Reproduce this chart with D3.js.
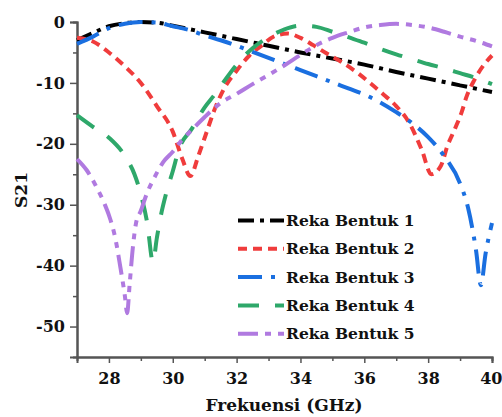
<!DOCTYPE html>
<html>
<head>
<meta charset="utf-8">
<script src="https://cdn.jsdelivr.net/npm/d3@7"></script>
<style>
  body { margin: 0; background: #fff; }
  text { font-family: "DejaVu Serif", serif; font-weight: bold; fill: #111; }
</style>
</head>
<body>
<div class="graph"></div>
<script>
// values: [frequency GHz, S21 dB]
var reka1 = [[27,-3],[27.5,-1.8],[28,-0.7],[28.5,-0.2],[29,0],[29.5,-0.1],[30,-0.6],[31,-1.7],
  [32,-2.8],[33,-3.9],[34,-5],[35,-6],[36,-7],[37,-8.2],[38,-9.3],[39,-10.4],[40,-11.5]];
var reka2 = [[27,-2.6],[27.5,-3.2],[28,-5],[28.5,-7.3],[29,-10],[29.5,-13.8],[30,-18],[30.3,-22.5],
  [30.55,-25.3],[30.8,-22],[31,-19],[31.3,-14.5],[31.6,-11],[32,-8],[32.4,-5.5],[32.8,-3.8],
  [33.2,-2.3],[33.6,-1.9],[34,-2.6],[34.4,-3.8],[34.8,-5.1],[35.3,-6.6],[35.8,-8.4],[36.2,-10.1],
  [36.6,-11.9],[37,-13.8],[37.4,-16.5],[37.8,-21],[38.1,-25],[38.4,-23.6],[38.6,-20.4],
  [38.85,-17.4],[39.05,-14.8],[39.2,-12.3],[39.45,-9.5],[39.75,-7],[40,-5.5]];
var reka3 = [[27,-3.6],[27.5,-2.4],[28,-1],[28.5,-0.3],[29,0],[29.5,-0.1],[30,-0.7],[30.5,-1.3],
  [31,-2.2],[31.5,-3],[32,-3.9],[32.5,-4.9],[33,-5.9],[33.5,-6.9],[34,-7.9],[34.5,-8.9],[35,-9.9],
  [35.5,-10.9],[36,-11.9],[36.5,-13.2],[37,-14.8],[37.5,-16.6],[38,-18.9],[38.5,-22],[39,-26.5],
  [39.25,-30.5],[39.5,-37.5],[39.65,-43.2],[39.8,-38],[40,-33]];
var reka4 = [[27,-15.3],[27.5,-17.2],[28,-19],[28.5,-22],[28.8,-25],[29,-28.3],[29.2,-33],
  [29.38,-39.4],[29.5,-35.5],[29.6,-32.5],[29.8,-28],[30,-24.5],[30.2,-20.8],[30.6,-17.5],
  [31,-14],[31.3,-12],[31.6,-9.8],[32,-7],[32.5,-4.3],[33,-2.5],[33.5,-1.2],[34,-0.6],[34.5,-0.8],
  [35,-1.6],[35.5,-2.5],[36,-3.4],[36.5,-4.4],[37,-5.3],[37.5,-6.1],[38,-6.9],[38.5,-7.6],
  [39,-8.4],[39.5,-9.2],[40,-10.2]];
var reka5 = [[27,-22.5],[27.3,-24.3],[27.6,-27],[27.85,-29.7],[28.05,-32.5],[28.2,-35.5],
  [28.35,-40],[28.5,-45],[28.57,-47.8],[28.65,-43],[28.75,-37],[28.85,-33],[29,-31],[29.2,-28],
  [29.4,-25.8],[29.7,-23],[30,-21.3],[30.3,-19.3],[30.6,-17.7],[31,-15.6],[31.5,-13.3],
  [32,-11.8],[32.5,-10.2],[33,-8.7],[33.5,-7.1],[34,-5.4],[34.5,-3.8],[35,-2.6],[35.5,-1.7],
  [36,-0.9],[36.5,-0.5],[37,-0.3],[37.5,-0.5],[38,-0.9],[38.5,-1.6],[39,-2.4],[39.5,-3.1],[40,-4]];

var names = ["Reka Bentuk 1", "Reka Bentuk 2", "Reka Bentuk 3", "Reka Bentuk 4", "Reka Bentuk 5"];
var xMajor = [28, 30, 32, 34, 36, 38, 40];
var xMinor = [29, 31, 33, 35, 37, 39];
var yMajor = [-50, -40, -30, -20, -10, 0];
var yMinor = [-45, -35, -25, -15, -5];

var W = 502, H = 417;
var colors = ["#000000", "#f03c3c", "#1a6fe0", "#2ea86a", "#b07ae0"];
var dashes = ["16,6,4,6", "9,6", "24,9,4,9", "21,16", "20,7,6,7,6,7"];

var svg = d3.select(".graph").append("svg")
  .attr("width", W).attr("height", H);

var x = d3.scaleLinear().domain([27, 40]).range([77, 492]);
var y = d3.scaleLinear().domain([-55, 0]).range([357, 22]);

// plain hyphen for negatives, like the original
var fmt = function(d) { return String(d); };

var axisCol = "#555";
function styleAxis(g) {
  g.select(".domain").attr("stroke", axisCol).attr("stroke-width", 2);
  g.selectAll(".tick line").attr("stroke", axisCol).attr("stroke-width", 1.5);
  g.selectAll("text").attr("font-family", null).attr("font-size", null)
    .style("font-size", "16px").attr("fill", "#111");
}
// minor ticks first (no labels)
svg.append("g").attr("transform", "translate(0,357)")
  .call(d3.axisBottom(x).tickValues(xMinor).tickSize(4).tickFormat(""))
  .call(styleAxis);
svg.append("g").attr("transform", "translate(77,0)")
  .call(d3.axisLeft(y).tickValues(yMinor).tickSize(4).tickFormat(""))
  .call(styleAxis);
var xAx = svg.append("g").attr("transform", "translate(0,357)")
  .call(d3.axisBottom(x).tickValues(xMajor).tickSize(6).tickPadding(10).tickFormat(fmt))
  .call(styleAxis);
// last label sits against the window edge: keep it inside
xAx.selectAll(".tick text").filter(function(d) { return d == 40; })
  .attr("text-anchor", "end").attr("x", 10);
svg.append("g").attr("transform", "translate(77,0)")
  .call(d3.axisLeft(y).tickValues(yMajor).tickSize(7).tickPadding(5).tickFormat(fmt))
  .call(styleAxis);

// curves
var line = d3.line()
  .x(function(d) { return x(d[0]); })
  .y(function(d) { return y(d[1]); })
  .curve(d3.curveMonotoneX);

var series = [reka1, reka2, reka3, reka4, reka5];
svg.append("g").selectAll("path")
  .data(series).enter()
  .append("path")
    .attr("d", line)
    .attr("fill", "none")
    .attr("stroke", function(d, i) { return colors[i]; })
    .attr("stroke-width", 4)
    .attr("stroke-dasharray", function(d, i) { return dashes[i]; });

// legend
var leg = svg.append("g").selectAll("g")
  .data(names).enter()
  .append("g")
    .attr("transform", function(d, i) { return "translate(0," + (220.5 + i * 28.3) + ")"; });
leg.append("line")
  .attr("x1", 238).attr("x2", 284).attr("y1", 0).attr("y2", 0)
  .attr("stroke", function(d, i) { return colors[i]; })
  .attr("stroke-width", 4)
  .attr("stroke-dasharray", function(d, i) { return dashes[i]; });
leg.append("text")
  .attr("x", 286).attr("dy", "0.36em")
  .style("font-size", "15.5px")
  .text(function(d) { return d; });

// axis titles
svg.append("text")
  .attr("x", 284).attr("y", 411)
  .attr("text-anchor", "middle")
  .style("font-size", "17px")
  .text("Frekuensi (GHz)");
svg.append("text")
  .attr("transform", "translate(27,190) rotate(-90)")
  .attr("text-anchor", "middle")
  .style("font-size", "17px")
  .text("S21");
</script>
</body>
</html>
